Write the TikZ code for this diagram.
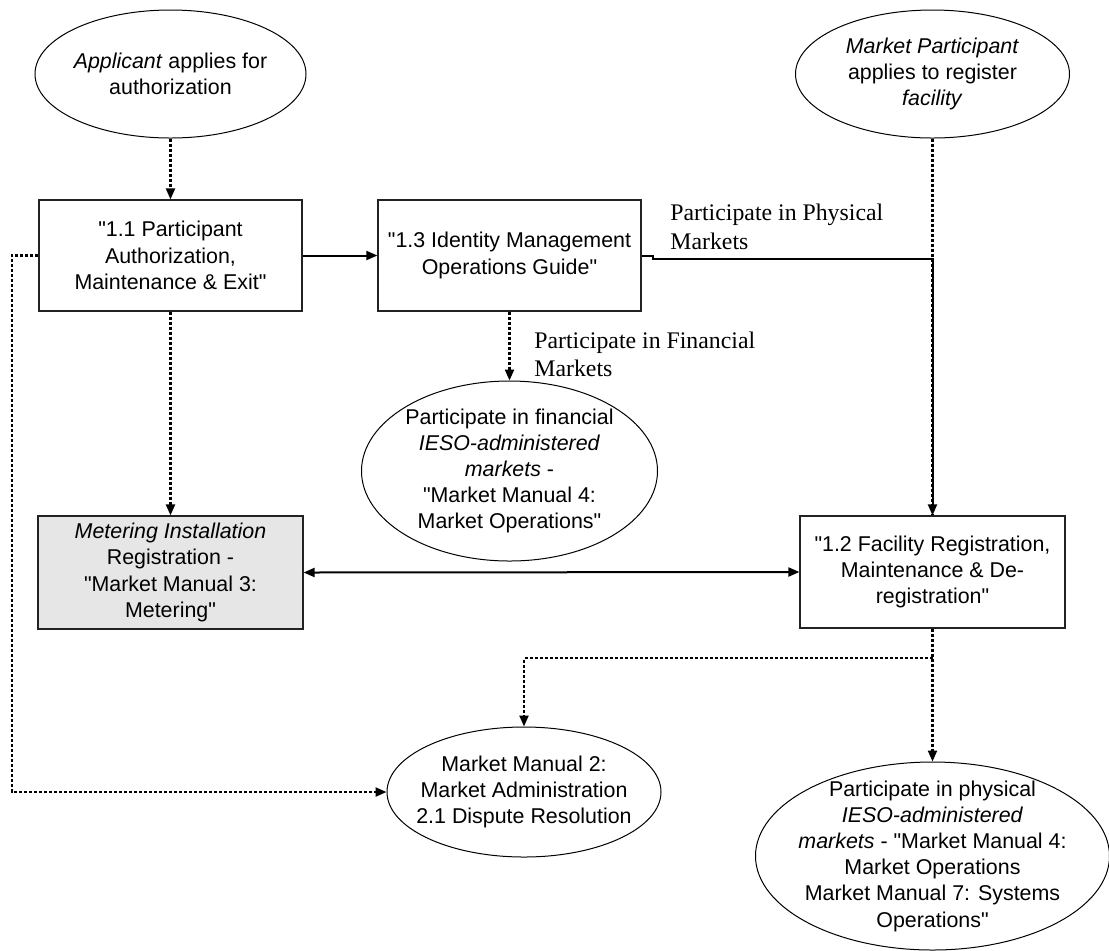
\documentclass[tikz,border=0pt]{standalone}
\usepackage{fontspec}
\setmainfont{Liberation Sans}
\newfontfamily\lblfont{Liberation Serif}
\usetikzlibrary{arrows.meta,shapes.geometric}
\definecolor{metfill}{HTML}{E6E6E6}
\definecolor{edgegray}{HTML}{222222}
\newcommand{\qq}{\textquotedbl}
\begin{document}
\begin{tikzpicture}[x=0.5pt,y=-0.5pt,
  every node/.style={font=\fontsize{10.7}{13.1}\selectfont},
  procbox/.style={draw=edgegray, line width=0.6pt, align=center, minimum width=131.5pt, minimum height=55.5pt, inner sep=2pt},
  oval/.style={draw, ellipse, line width=0.5pt, align=center, inner sep=-8pt},
  lbl/.style={font=\lblfont\fontsize{11.9}{14.3}\selectfont, align=left, anchor=west, inner sep=0pt},
  dotline/.style={line width=1.1pt, dash pattern=on 1.5pt off 1pt},
  solidline/.style={line width=1pt},
  tip/.style={-{Triangle[length=5.5pt,width=4.5pt]}},
  tips/.style={{Triangle[length=5.5pt,width=4.5pt]}-{Triangle[length=5.5pt,width=4.5pt]}}
]
\useasboundingbox (0,0) rectangle (1109,950);

\node[oval, minimum width=135.5pt, minimum height=64pt] (app) at (170.5,74) {\textit{Applicant} applies for\\authorization};
\node[oval, minimum width=137pt, minimum height=64pt] (mp) at (932.5,74) {\textit{Market Participant}\\applies to register\\\textit{facility}};
\node[procbox] (b11) at (170.5,255.5) {\qq1.1 Participant\\Authorization,\\Maintenance \& Exit\qq};
\node[procbox] (b13) at (509.5,255.5) {\qq1.3 Identity Management\\Operations Guide\qq};
\node[oval, minimum width=148pt, minimum height=90pt] (fin) at (509.5,471) {Participate in financial\\\textit{IESO-administered}\\\textit{markets} -\\\qq Market Manual 4:\\Market Operations\qq};
\node[procbox, fill=metfill, minimum width=132.5pt, minimum height=56.5pt] (met) at (170.5,572.5) {\textit{Metering Installation}\\Registration -\\\qq Market Manual 3:\\Metering\qq};
\node[procbox, minimum width=132.5pt, minimum height=56pt] (b12) at (932.5,572) {\qq1.2 Facility Registration,\\Maintenance \& De-\\registration\qq};
\node[oval, minimum width=137pt, minimum height=65pt] (mm2) at (524,792) {Market Manual 2:\\Market Administration\\2.1 Dispute Resolution};
\node[oval, minimum width=177pt, minimum height=94pt] (phys) at (932.5,856) {Participate in physical\\\textit{IESO-administered}\\\textit{markets} - \qq Market Manual 4:\\Market Operations\\Market Manual 7: Systems\\Operations\qq};

\node[lbl] (lphys) at (670,227) {Participate in Physical\\Markets};
\node[lbl] (lfin) at (534,354.5) {Participate in Financial\\Markets};

\coordinate (j1) at (653,255.5);
\coordinate (j2) at (653,259);
\coordinate (j3) at (932.5,259);
\coordinate (j4) at (932.5,658);
\coordinate (j5) at (524,658);
\coordinate (j6) at (12,255.5);
\coordinate (j7) at (12,792);

\draw[dotline, tip] (app.south) -- (b11.north);
\draw[solidline, tip] (b11.east) -- (b13.west);
\draw[dotline] (mp.south) -- (b12.north);
\draw[solidline, tip] (b13.east) -- (j1) -- (j2) -- (j3) -- (b12.north);
\draw[dotline, tip] (b13.south) -- (fin.north);
\draw[dotline, tip] (b11.south) -- (met.north);
\draw[solidline, tips] (met.east) -- (b12.west);
\draw[dotline, tip] (b12.south) -- (phys.north);
\draw[dotline, tip] (j4) -- (j5) -- (mm2.north);
\draw[dotline, tip] (b11.west) -- (j6) -- (j7) -- (mm2.west);
\end{tikzpicture}
\end{document}
